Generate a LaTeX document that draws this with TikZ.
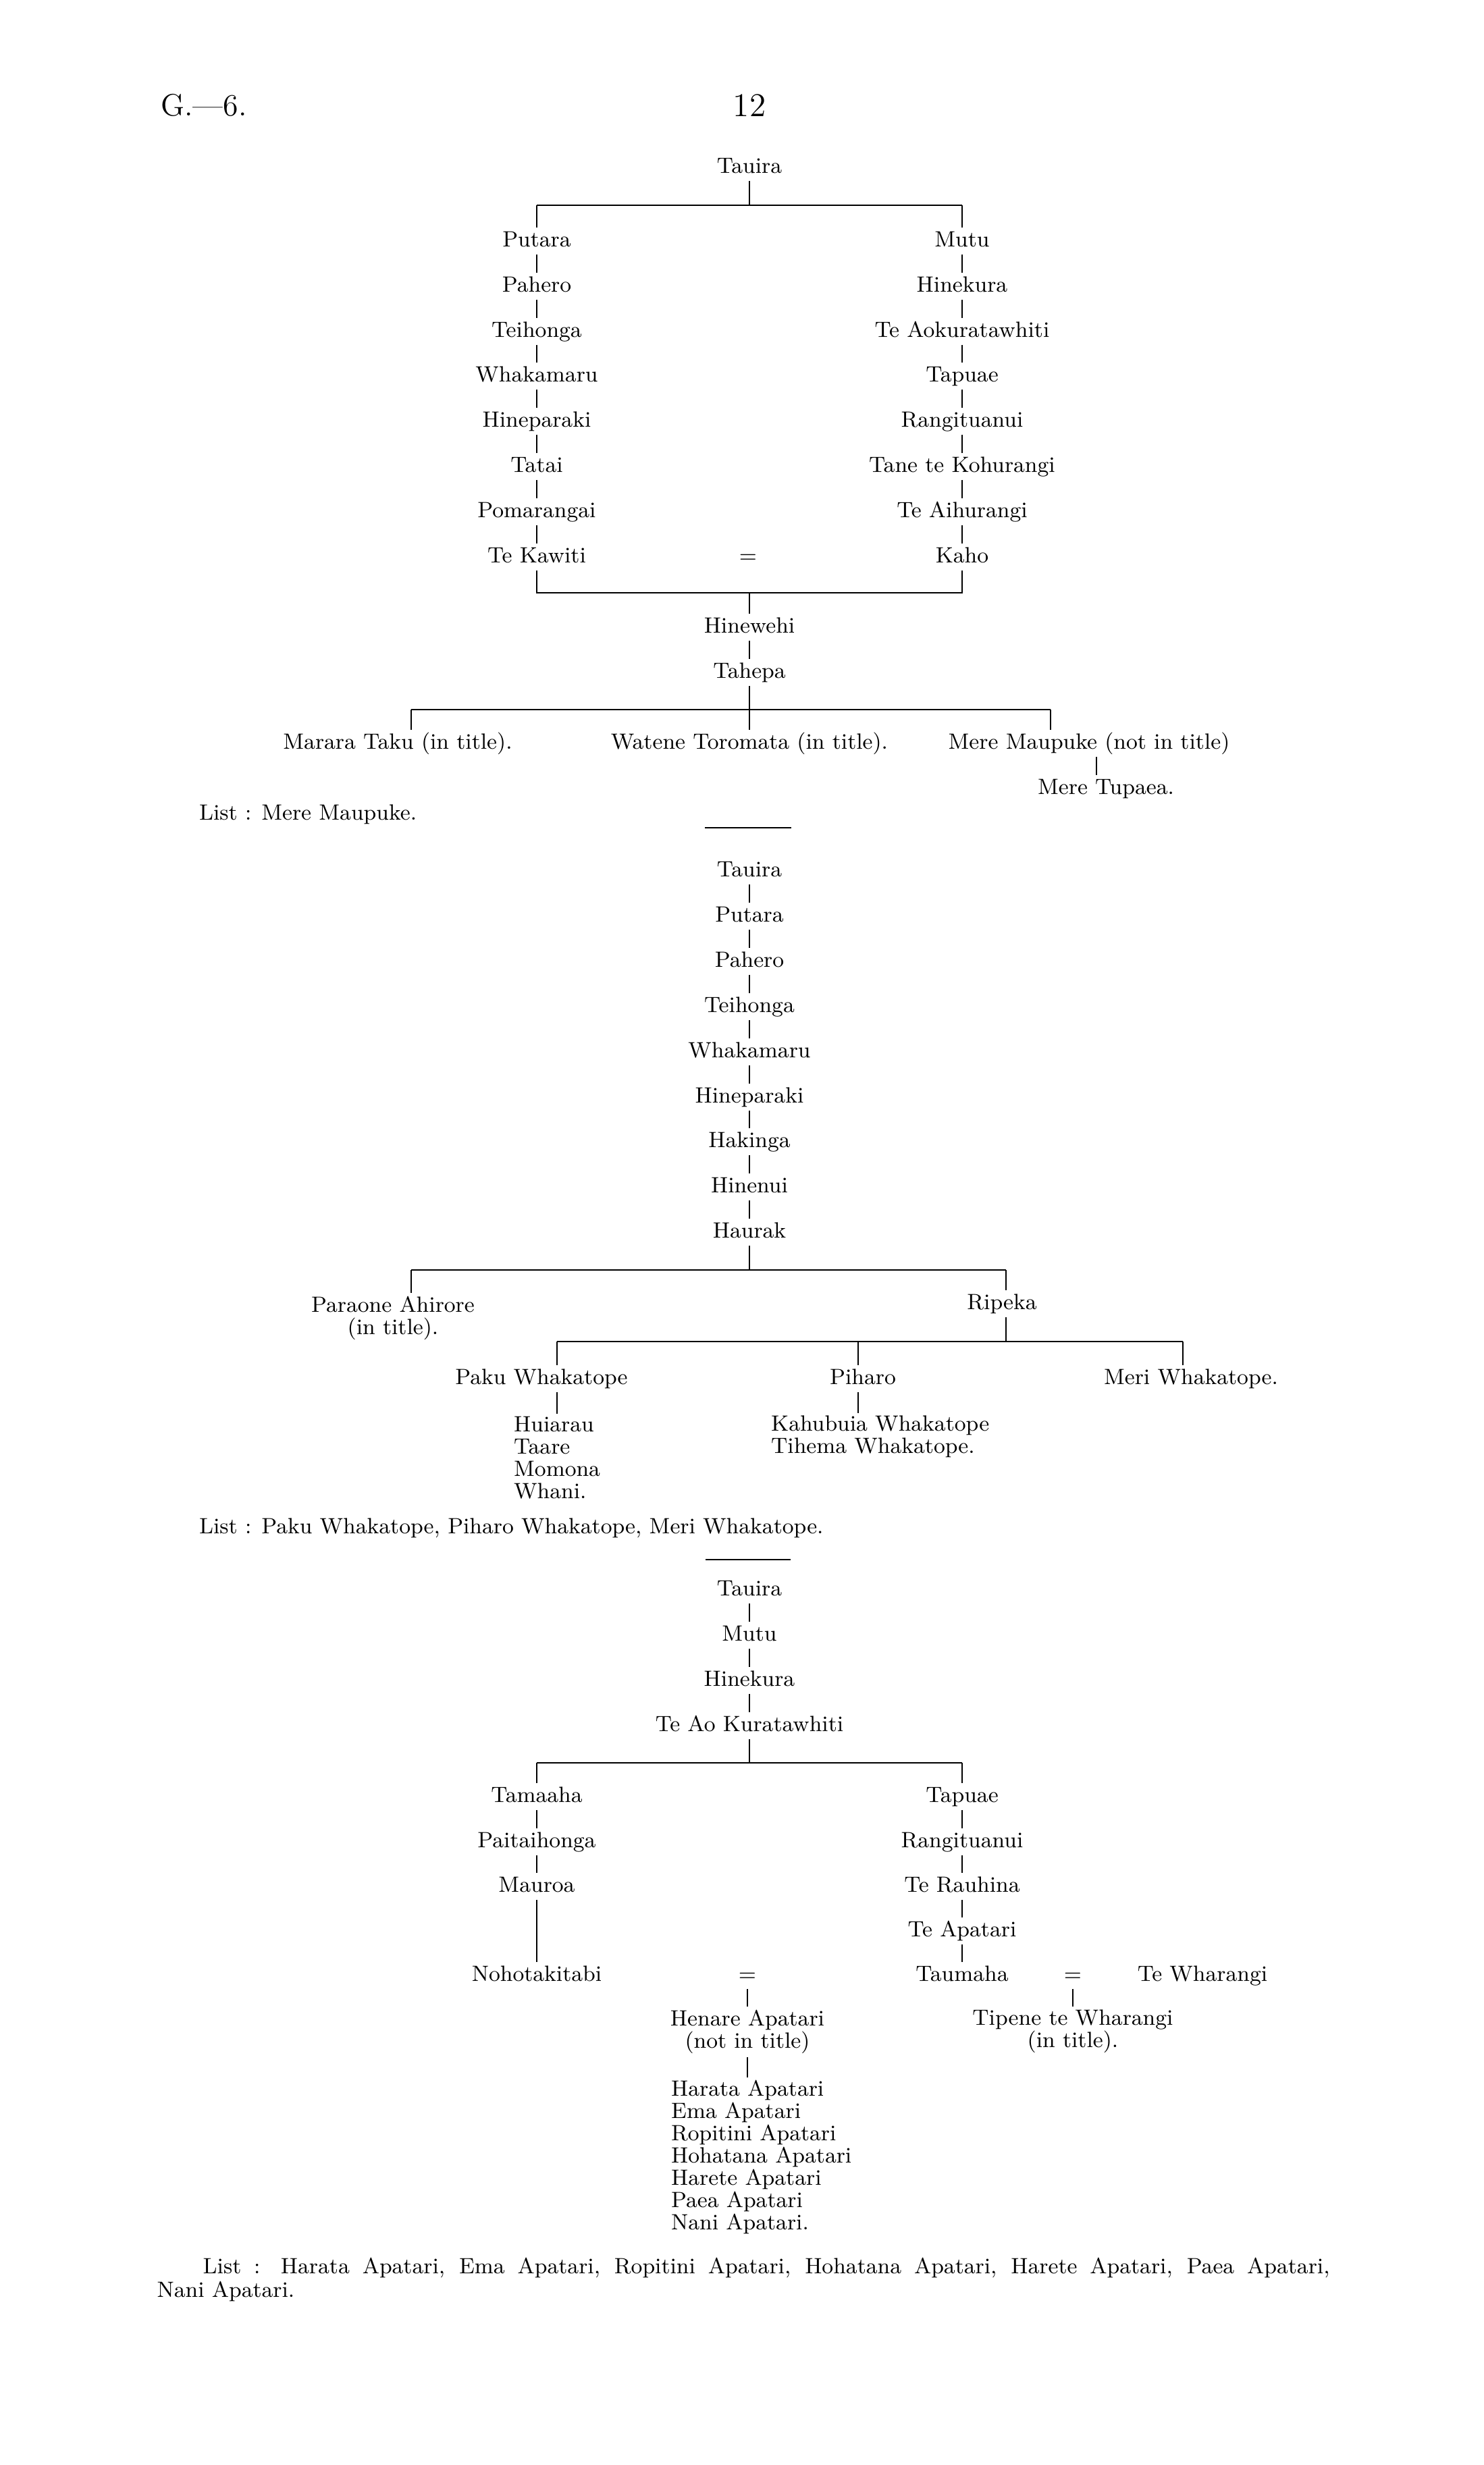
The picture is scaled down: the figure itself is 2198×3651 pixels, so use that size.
\documentclass[tikz,border=0pt]{standalone}
\usepackage{tikz}

\tikzset{
  person/.style={inner xsep=1pt, inner ysep=1.3pt, text height=6.4pt, text depth=1.8pt,
    font=\fontsize{9.3}{9.4}\selectfont},
  pair/.style={align=center, inner sep=1.3pt, font=\fontsize{9.3}{9.4}\selectfont},
  kids/.style={align=left, anchor=north west, inner sep=1pt, font=\fontsize{9.3}{9.4}\selectfont},
  header/.style={font=\fontsize{13}{15}\selectfont},
}

\begin{document}
\begin{tikzpicture}[x=0.01cm, y=-0.01cm, line width=0.35pt]
    \path[use as bounding box, fill=white] (0,0) rectangle (2198,3651);

    % 页眉
    \node[header] (g6) at (302,156) {G.---6.};
    \node[header, font=\fontsize{14}{16}\selectfont] (page) at (1110,156) {12};

    % 第一表
    \node[person] (tauiraA) at (1110,248) {Tauira};
    \coordinate (aL) at (795,304);
    \coordinate (aR) at (1425,304);

    \node[person] (putaraA) at (795,357) {Putara};
    \node[person] (paheroA) at (795,424) {Pahero};
    \node[person] (teihongaA) at (795,491) {Teihonga};
    \node[person] (whakamaruA) at (795,557) {Whakamaru};
    \node[person] (hineparakiA) at (795,624) {Hineparaki};
    \node[person] (tatai) at (795,691) {Tatai};
    \node[person] (pomarangai) at (795,758) {Pomarangai};
    \node[person] (kawiti) at (795,825) {Te Kawiti};

    \node[person] (mutuA) at (1425,357) {Mutu};
    \node[person] (hinekuraA) at (1425,424) {Hinekura};
    \node[person] (aokuraA) at (1425,491) {Te Aokuratawhiti};
    \node[person] (tapuaeA) at (1425,557) {Tapuae};
    \node[person] (rangituanuiA) at (1425,624) {Rangituanui};
    \node[person] (kohurangi) at (1425,691) {Tane te Kohurangi};
    \node[person] (aihurangi) at (1425,758) {Te Aihurangi};
    \node[person] (kaho) at (1425,825) {Kaho};
    \node[person] (eqA) at (1108,825) {=};

    \draw (tauiraA) -- (tauiraA |- aL);
    \draw (aL) -- (aR);
    \draw (aL) -- (putaraA) -- (paheroA) -- (teihongaA) -- (whakamaruA) -- (hineparakiA) -- (tatai) -- (pomarangai) -- (kawiti);
    \draw (aR) -- (mutuA) -- (hinekuraA) -- (aokuraA) -- (tapuaeA) -- (rangituanuiA) -- (kohurangi) -- (aihurangi) -- (kaho);

    \coordinate (bL) at (795,878);
    \coordinate (bR) at (1425,878);
    \node[person] (hinewehi) at (1110,929) {Hinewehi};
    \node[person] (tahepa) at (1110,996) {Tahepa};
    \draw (kawiti) -- (bL) -- (bR) -- (kaho);
    \draw (hinewehi |- bL) -- (hinewehi) -- (tahepa);

    \coordinate (cL) at (609,1051);
    \coordinate (cR) at (1556,1051);
    \node[person] (marara) at (589,1101) {Marara Taku (in title).};
    \node[person] (watene) at (1110,1101) {Watene Toromata (in title).};
    \node[person] (maupuke) at (1613,1101) {Mere Maupuke (not in title)};
    \node[person] (tupaea) at (1638,1168) {Mere Tupaea.};
    \coordinate (dA) at (1624,1101);
    \draw (tahepa) -- (tahepa |- cL);
    \draw (cL) -- (cR);
    \draw (cL) -- (cL |- marara.north);
    \draw (watene |- cL) -- (watene);
    \draw (cR) -- (cR |- maupuke.north);
    \draw (dA |- maupuke.south) -- (dA |- tupaea.north);

    \node[person, anchor=west] (listA) at (291,1206) {List : Mere Maupuke.};
    \draw[line width=0.8pt] (1044,1226) -- (1172,1226);

    % 第二表
    \node[person] (tauiraB) at (1110,1290) {Tauira};
    \node[person] (putaraB) at (1110,1357) {Putara};
    \node[person] (paheroB) at (1110,1424) {Pahero};
    \node[person] (teihongaB) at (1110,1491) {Teihonga};
    \node[person] (whakamaruB) at (1110,1558) {Whakamaru};
    \node[person] (hineparakiB) at (1110,1625) {Hineparaki};
    \node[person] (hakinga) at (1110,1691) {Hakinga};
    \node[person] (hinenui) at (1110,1758) {Hinenui};
    \node[person] (haurak) at (1110,1825) {Haurak};
    \draw (tauiraB) -- (putaraB) -- (paheroB) -- (teihongaB) -- (whakamaruB) -- (hineparakiB) -- (hakinga) -- (hinenui) -- (haurak);

    \coordinate (eL) at (609,1881);
    \coordinate (eR) at (1490,1881);
    \node[pair] (paraone) at (582,1952) {Paraone Ahirore\\(in title).};
    \node[person] (ripeka) at (1484,1931) {Ripeka};
    \draw (haurak) -- (haurak |- eL);
    \draw (eL) -- (eR);
    \draw (eL) -- (eL |- paraone.north);
    \draw (eR) -- (eR |- ripeka.north);

    \coordinate (fL) at (825,1987);
    \coordinate (fP) at (1271,1987);
    \coordinate (fR) at (1752,1987);
    \node[person] (paku) at (802,2042) {Paku Whakatope};
    \node[person] (piharo) at (1278,2042) {Piharo};
    \node[person] (meri) at (1764,2042) {Meri Whakatope.};
    \draw (eR |- ripeka.south) -- (eR |- fL);
    \draw (fL) -- (fR);
    \draw (fL) -- (fL |- paku.north);
    \draw (fP) -- (fP |- piharo.north);
    \draw (fR) -- (fR |- meri.north);

    \node[kids] (kidsP) at (757,2094) {Huiarau\\Taare\\Momona\\Whani.};
    \node[kids] (kidsQ) at (1138,2093) {Kahubuia Whakatope\\Tihema Whakatope.};
    \draw (fL |- paku.south) -- (fL |- kidsP.north);
    \draw (fP |- piharo.south) -- (fP |- kidsQ.north);

    \node[person, anchor=west] (listB) at (291,2263) {List : Paku Whakatope, Piharo Whakatope, Meri Whakatope.};
    \draw[line width=0.8pt] (1045,2310) -- (1171,2310);

    % 第三表
    \node[person] (tauiraC) at (1110,2355) {Tauira};
    \node[person] (mutuC) at (1110,2422) {Mutu};
    \node[person] (hinekuraC) at (1110,2489) {Hinekura};
    \node[person] (aokuraC) at (1110,2556) {Te Ao Kuratawhiti};
    \draw (tauiraC) -- (mutuC) -- (hinekuraC) -- (aokuraC);

    \coordinate (gL) at (795,2611);
    \coordinate (gR) at (1425,2611);
    \node[person] (tamaaha) at (795,2661) {Tamaaha};
    \node[person] (paitaihonga) at (795,2728) {Paitaihonga};
    \node[person] (mauroa) at (795,2794) {Mauroa};
    \node[person] (nohotakitabi) at (795,2926) {Nohotakitabi};
    \node[person] (tapuaeC) at (1425,2661) {Tapuae};
    \node[person] (rangituanuiC) at (1425,2728) {Rangituanui};
    \node[person] (rauhina) at (1425,2794) {Te Rauhina};
    \node[person] (apatari) at (1425,2860) {Te Apatari};
    \node[person] (taumaha) at (1425,2926) {Taumaha};
    \node[person] (eqB) at (1107,2926) {=};
    \node[person] (eqC) at (1589,2926) {=};
    \node[person] (wharangi) at (1781,2926) {Te Wharangi};

    \draw (aokuraC) -- (aokuraC |- gL);
    \draw (gL) -- (gR);
    \draw (gL) -- (tamaaha) -- (paitaihonga) -- (mauroa) -- (nohotakitabi);
    \draw (gR) -- (tapuaeC) -- (rangituanuiC) -- (rauhina) -- (apatari) -- (taumaha);

    \node[pair] (henare) at (1107,3009) {Henare Apatari\\(not in title)};
    \node[pair] (tipene) at (1589,3009) {Tipene te Wharangi\\(in title).};
    \node[kids] (kidsH) at (990,3077) {Harata Apatari\\Ema Apatari\\Ropitini Apatari\\Hohatana Apatari\\Harete Apatari\\Paea Apatari\\Nani Apatari.};
    \draw (eqB) -- (henare);
    \draw (eqC) -- (tipene);
    \draw (henare) -- (henare |- kidsH.north);

    \node[anchor=north west, text width=17.36cm, align=justify, inner sep=0pt,
      font=\fontsize{9.3}{10}\selectfont] (listC) at (232,3343)
      {\hspace*{0.68cm}List : Harata Apatari, Ema Apatari, Ropitini Apatari, Hohatana Apatari, Harete Apatari, Paea Apatari,\linebreak Nani Apatari.};

\end{tikzpicture}
\end{document}
